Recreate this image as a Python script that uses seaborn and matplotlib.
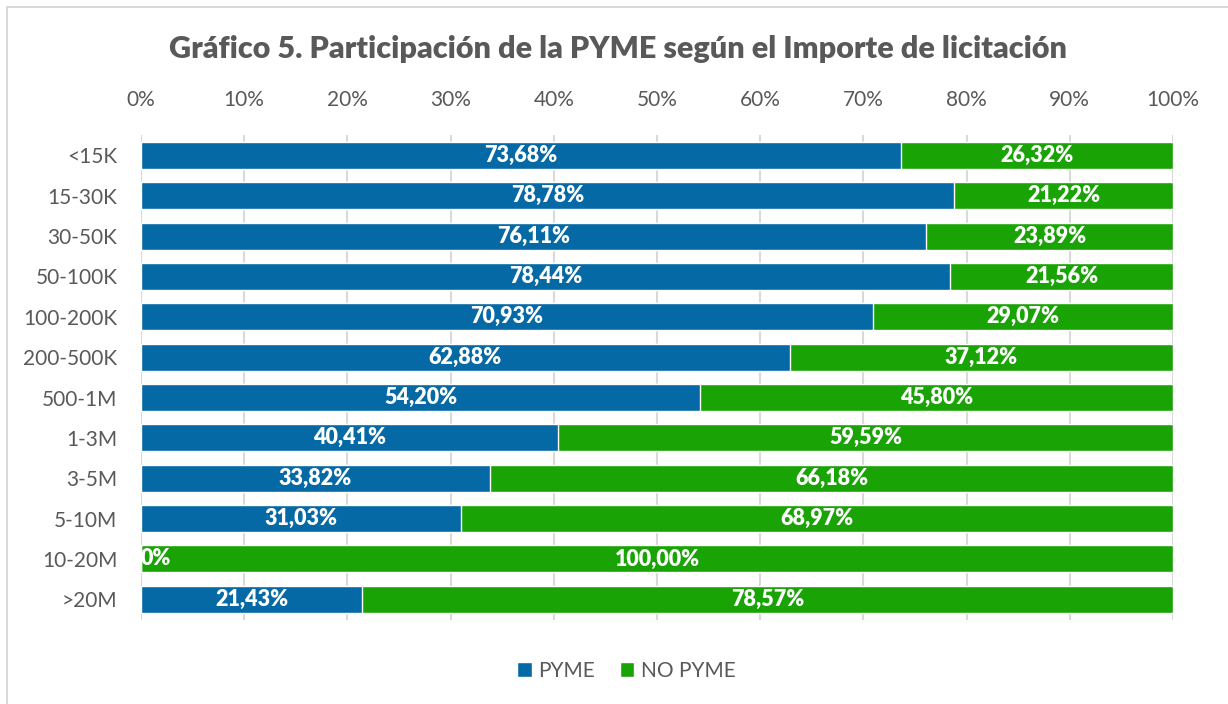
import pandas as pd
import numpy as np
import matplotlib.pyplot as plt
import seaborn as sns
from matplotlib.patches import Patch
from matplotlib.lines import Line2D

categorias = ['<15K', '15-30K', '30-50K', '50-100K', '100-200K', '200-500K',
              '500-1M', '1-3M', '3-5M', '5-10M', '10-20M', '>20M']
pyme = [73.68, 78.78, 76.11, 78.44, 70.93, 62.88, 54.20, 40.41, 33.82, 31.03, 0.0, 21.43]
no_pyme = [26.32, 21.22, 23.89, 21.56, 29.07, 37.12, 45.80, 59.59, 66.18, 68.97, 100.00, 78.57]

azul = '#0569A6'
verde = '#19A305'
gris = '#595959'

df = pd.DataFrame({'cat': categorias, 'pyme': pyme, 'no_pyme': no_pyme})
df['total'] = df['pyme'] + df['no_pyme']

sns.set_style('white')
plt.rcParams['font.family'] = ['Lato', 'DejaVu Sans']

fig = plt.figure(figsize=(12.28, 7.04), dpi=100)
ax = fig.add_axes([0.1148, 0.12, 0.9552 - 0.1148, 0.688])

# green bar first (full length), blue on top -> stacked look
sns.barplot(data=df, y='cat', x='total', color=verde, orient='h', width=0.67,
            saturation=1, ax=ax, zorder=2)
sns.barplot(data=df, y='cat', x='pyme', color=azul, orient='h', width=0.67,
            saturation=1, ax=ax, zorder=3)

for i, (p, n) in enumerate(zip(pyme, no_pyme)):
    if p == 0:
        ax.text(0, i, '0%', ha='left', va='center', color='white',
                fontsize=15.5, fontweight='heavy', zorder=5)
    else:
        ax.text(p / 2, i, f'{p:.2f}%'.replace('.', ','), ha='center', va='center',
                color='white', fontsize=15.5, fontweight='heavy', zorder=5)
    ax.text(p + n / 2, i, f'{n:.2f}%'.replace('.', ','), ha='center', va='center',
            color='white', fontsize=15.5, fontweight='heavy', zorder=5)

ax.set_xlim(0, 100)
ax.set_ylim(11.5, -0.5)
ax.set_xticks(range(0, 101, 10))
ax.set_xticklabels([f'{t}%' for t in range(0, 101, 10)])
ax.xaxis.tick_top()
ax.tick_params(axis='x', length=0, pad=18, labelsize=15, labelcolor=gris)
ax.tick_params(axis='y', length=0, pad=17, labelsize=15, labelcolor=gris)
ax.set_xlabel('')
ax.set_ylabel('')
ax.grid(axis='x', color='#D9D9D9', linewidth=1.5, zorder=0)
ax.set_axisbelow(True)
sns.despine(ax=ax, left=True, bottom=True, top=True, right=True)

fig.text(0.503, 0.93, 'Gráfico 5. Participación de la PYME según el Importe de licitación',
         ha='center', va='center', fontsize=22, fontweight='heavy', color=gris)

handles = [Patch(facecolor=azul, label='PYME'), Patch(facecolor=verde, label='NO PYME')]
fig.legend(handles=handles, loc='center', bbox_to_anchor=(0.51, 0.047), ncol=2,
           frameon=False, fontsize=15, labelcolor=gris, handlelength=0.7,
           handleheight=0.7, handletextpad=0.3, columnspacing=1.2)

# chart frame border (top and left visible)
fig.add_artist(Line2D([7 / 1228, 1], [1 - 7 / 704, 1 - 7 / 704], color='#D9D9D9',
                      linewidth=1.5, transform=fig.transFigure))
fig.add_artist(Line2D([7 / 1228, 7 / 1228], [0, 1 - 7 / 704], color='#D9D9D9',
                      linewidth=1.5, transform=fig.transFigure))

fig.savefig('out.png', dpi=100)
